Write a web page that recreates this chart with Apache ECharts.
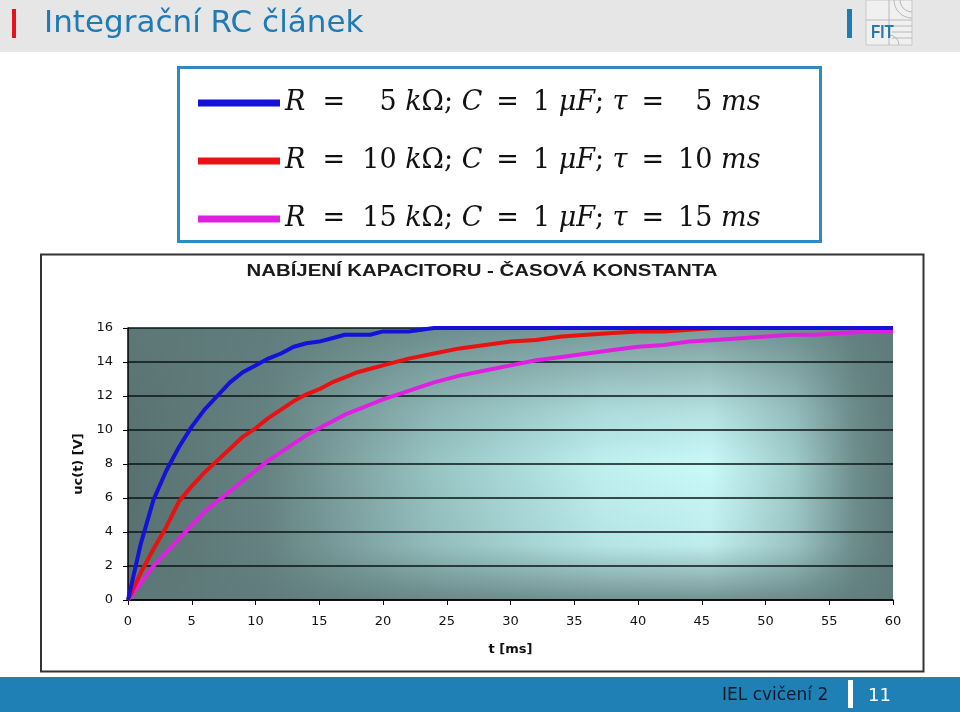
<!DOCTYPE html>
<html><head><meta charset="utf-8">
<script src="https://cdn.jsdelivr.net/npm/echarts@6/dist/echarts.min.js"></script>
<style>html,body{margin:0;padding:0;background:#fff}#c{width:960px;height:712px}</style>
</head><body><div id="c"></div><script>
// ---- data ----
const timeMs = [0,1,2,3,4,5,6,7,8,9,10,11,12,13,14,15,16,17,18,19,20,
  22,24,26,28,30,32,34,36,38,40,42,44,46,48,50,52,54,56,58,60];
const uTau5 = [0,3.3,5.9,7.6,9.0,10.2,11.2,12.0,12.8,13.4,13.8,14.2,14.5,14.9,15.1,15.2,15.4,15.6,15.6,15.6,15.8,
  15.8,16,16,16,16,16,16,16,16,16,16,16,16,16,16,16,16,16,16,16];
const uTau10 = [0,1.6,3.0,4.3,5.8,6.7,7.5,8.2,8.9,9.6,10.1,10.7,11.2,11.7,12.1,12.4,12.8,13.1,13.4,13.6,13.8,
  14.2,14.5,14.8,15.0,15.2,15.3,15.5,15.6,15.7,15.8,15.8,15.9,16,16,16,16,16,16,16,16];
const uTau15 = [0,1.0,2.0,2.8,3.6,4.4,5.2,5.8,6.4,7.0,7.6,8.2,8.7,9.2,9.7,10.1,10.5,10.9,11.2,11.5,11.8,
  12.3,12.8,13.2,13.5,13.8,14.1,14.3,14.5,14.7,14.9,15.0,15.2,15.3,15.4,15.5,15.6,15.6,15.7,15.8,15.8];
const R_kOhm = [5, 10, 15];
const C_uF = [1, 1, 1];
const tau_ms = [5, 10, 15];
const seriesNames = ['tau5', 'tau10', 'tau15'];
const seriesColors = ['#1212d8', '#e81212', '#e020e0'];
const chartTitle = 'NABÍJENÍ KAPACITORU - ČASOVÁ KONSTANTA';
const xName = 't [ms]';
const yName = 'uc(t) [V]';
const slideTitle = 'Integrační RC článek';
const footerText = 'IEL cvičení 2';
const pageNo = '11';

// ---- layout ----
const G = {l:128, t:328, r:893, b:600};
const serif = '"DejaVu Serif", "Liberation Serif", serif';
const sans = '"DejaVu Sans", "Liberation Sans", sans-serif';
const head = '"DejaVu Sans", "Liberation Sans", sans-serif';

// stretch the chart title to its width in the reference
const titleFont = 'bold 16px "Liberation Sans", Arial, sans-serif';
const mctx = document.createElement('canvas').getContext('2d');
mctx.font = titleFont;
const titleScale = 471 / mctx.measureText(chartTitle).width;

const chart = echarts.init(document.getElementById('c'), null, {renderer:'canvas'});
const uSeries = [uTau5, uTau10, uTau15];

function pad(v){ return v < 10 ? '\u2007' + v : '' + v; }
function legendText(name){
  const k = seriesNames.indexOf(name);
  return '{i|R}{n|  =  ' + pad(R_kOhm[k]) + ' }{i|k}{n|Ω; }{i|C}{n| \u2009=\u2009 ' + C_uF[k] + ' }{i|μF}{n|; }{i|τ}{n| \u2009=\u2009 ' + pad(tau_ms[k]) + ' }{i|ms}';
}

const option = {
  animation: false,
  legend: {
    data: seriesNames, orient: 'vertical', left: 198, top: 88, padding: 0, itemGap: 28,
    icon: 'rect', itemWidth: 82, itemHeight: 7, itemStyle: {borderWidth: 0},
    formatter: legendText,
    textStyle: {
      color: '#111', fontSize: 27, fontFamily: serif, lineHeight: 30,
      rich: {
        i: {fontFamily: serif, fontStyle: 'italic', fontSize: 27, color: '#111', lineHeight: 30},
        n: {fontFamily: serif, fontSize: 27, color: '#111', lineHeight: 30}
      }
    }
  },
  grid: {left: G.l, top: G.t, width: G.r - G.l, height: G.b - G.t, show: false},
  xAxis: {
    type: 'value', min: 0, max: 60, interval: 5,
    axisLine: {show: true, lineStyle: {color: '#000', width: 1.5}},
    axisTick: {show: true, length: 5, lineStyle: {color: '#000', width: 1}},
    axisLabel: {color: '#111', fontSize: 13, fontFamily: sans, margin: 15},
    splitLine: {show: false},
    name: xName, nameLocation: 'middle', nameGap: 43,
    nameTextStyle: {fontFamily: sans, fontSize: 13, fontWeight: 'bold', color: '#111'}
  },
  yAxis: {
    type: 'value', min: 0, max: 16, interval: 2,
    axisLine: {show: true, lineStyle: {color: '#000', width: 1.5}},
    axisTick: {show: true, length: 5, lineStyle: {color: '#000', width: 1}},
    axisLabel: {color: '#111', fontSize: 13, fontFamily: sans, margin: 15},
    splitLine: {show: true, lineStyle: {color: '#0a1414', width: 1.5}},
    name: yName, nameLocation: 'middle', nameGap: 43, nameRotate: 90,
    nameTextStyle: {fontFamily: sans, fontSize: 13, fontWeight: 'bold', color: '#111'}
  },
  series: seriesNames.map((n, k) => ({
    name: n, type: 'line', showSymbol: false, symbol: 'none', clip: false,
    data: timeMs.map((t, i) => [t, uSeries[k][i]]),
    lineStyle: {color: seriesColors[k], width: 4},
    itemStyle: {color: seriesColors[k]},
    z: 3 + (2 - k)
  })),
  graphic: [
    // header
    {type: 'rect', z: -20, shape: {x: 0, y: 0, width: 960, height: 52}, style: {fill: '#e6e6e6'}},
    {type: 'rect', z: -19, shape: {x: 12, y: 9, width: 4, height: 29}, style: {fill: '#e3141b'}},
    {type: 'text', z: -19, x: 44, y: 24, style: {text: slideTitle, fill: '#1f7ab5', font: '31px ' + head, verticalAlign: 'middle'}},
    {type: 'rect', z: -19, shape: {x: 847, y: 9, width: 5, height: 29}, style: {fill: '#1f7ab5'}},
    // logo
    {type: 'group', z: -19, x: 866, y: 0, children: [
      {type: 'rect', shape: {x: 0, y: 0, width: 46, height: 45}, style: {fill: '#f0f0f0', stroke: '#c8c8c8', lineWidth: 1}},
      {type: 'line', shape: {x1: 0, y1: 20, x2: 46, y2: 20}, style: {stroke: '#b8b8b8'}},
      {type: 'line', shape: {x1: 23, y1: 0, x2: 23, y2: 45}, style: {stroke: '#b8b8b8'}},
      {type: 'arc', shape: {cx: 46, cy: 0, r: 12, startAngle: Math.PI/2, endAngle: Math.PI}, style: {stroke: '#b8b8b8', fill: null}},
      {type: 'arc', shape: {cx: 46, cy: 0, r: 18, startAngle: Math.PI/2, endAngle: Math.PI}, style: {stroke: '#b8b8b8', fill: null}},
      {type: 'arc', shape: {cx: 23, cy: 45, r: 10, startAngle: -Math.PI/2, endAngle: 0}, style: {stroke: '#b8b8b8', fill: null}},
      {type: 'line', shape: {x1: 26, y1: 26, x2: 46, y2: 26}, style: {stroke: '#b8b8b8'}},
      {type: 'line', shape: {x1: 26, y1: 32, x2: 46, y2: 32}, style: {stroke: '#b8b8b8'}},
      {type: 'line', shape: {x1: 26, y1: 38, x2: 46, y2: 38}, style: {stroke: '#b8b8b8'}},
      {type: 'text', x: 5, y: 33, scaleX: 0.8, style: {text: 'FIT', fill: '#2a7ab0', font: 'bold 19px "Liberation Sans", sans-serif', verticalAlign: 'middle'}}
    ]},
    // legend box
    {type: 'rect', z: -18, shape: {x: 178.5, y: 67.5, width: 642, height: 174}, style: {fill: '#fff', stroke: '#2e8bc0', lineWidth: 3}},
    // chart box
    {type: 'rect', z: -18, shape: {x: 41, y: 254.5, width: 882.5, height: 417}, style: {fill: '#fff', stroke: '#333', lineWidth: 2}},
    // chart title (stretched like the reference)
    {type: 'text', z: 10, x: 482, y: 272, scaleX: titleScale, style: {text: chartTitle, fill: '#1a1a1a', font: titleFont, align: 'center', verticalAlign: 'middle'}},
    // plot background
    {type: 'rect', z: -15, shape: {x: G.l, y: G.t, width: G.r - G.l, height: G.b - G.t},
      style: {fill: {type: 'linear', x: 0, y: 0, x2: 1, y2: 0, colorStops: [
        {offset: 0, color: '#587070'}, {offset: 0.18, color: '#668282'}, {offset: 0.4, color: '#98c4c4'},
        {offset: 0.62, color: '#bff0f0'}, {offset: 0.76, color: '#caf9f9'}, {offset: 0.87, color: '#a0cccc'},
        {offset: 0.95, color: '#6e8e8e'}, {offset: 1, color: '#5f7b7b'}]}}},
    {type: 'rect', z: -14, shape: {x: G.l, y: G.t, width: G.r - G.l, height: G.b - G.t},
      style: {fill: {type: 'linear', x: 0, y: 0, x2: 0, y2: 1, colorStops: [
        {offset: 0, color: 'rgba(95,122,122,0.75)'}, {offset: 0.3, color: 'rgba(95,122,122,0.2)'},
        {offset: 0.5, color: 'rgba(95,122,122,0)'}, {offset: 0.8, color: 'rgba(95,122,122,0.1)'},
        {offset: 1, color: 'rgba(95,122,122,0.8)'}]}}},
    // footer
    {type: 'rect', z: -20, shape: {x: 0, y: 677, width: 960, height: 35}, style: {fill: '#1e80b5'}},
    {type: 'text', z: -19, x: 722, y: 696, style: {text: footerText, fill: '#0d1a2a', font: '17px ' + head, verticalAlign: 'middle'}},
    {type: 'rect', z: -19, shape: {x: 848, y: 680, width: 5, height: 28}, style: {fill: '#ffffff'}},
    {type: 'text', z: -19, x: 868, y: 696, style: {text: pageNo, fill: '#ffffff', font: '18px ' + head, verticalAlign: 'middle'}}
  ]
};
chart.setOption(option);
</script></body></html>
